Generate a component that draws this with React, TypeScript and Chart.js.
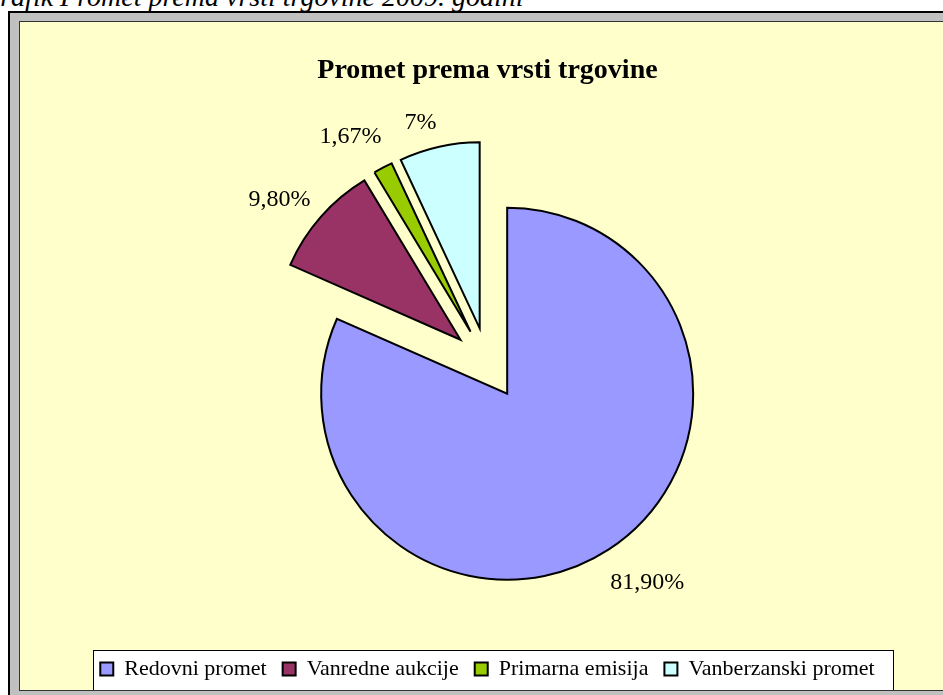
import React, { useEffect, useRef } from 'react';
import { Chart, registerables } from 'chart.js';

Chart.register(...registerables);

// ---- data ----
const categories = ['Redovni promet', 'Vanredne aukcije', 'Primarna emisija', 'Vanberzanski promet'];
const shares = [81.9, 9.8, 1.67, 7];
const shareLabels = ['81,90%', '9,80%', '1,67%', '7%'];
const sliceColors = ['#9999FF', '#993366', '#99CC00', '#CCFFFF'];
const chartTitle = 'Promet prema vrsti trgovine';
const caption = 'Grafik Promet prema vrsti trgovine 2009. godini';

// ---- style ----
const SERIF = "'Liberation Serif', 'Times New Roman', Times, serif";
const EXPLODE = 36;
const LABEL_TILT = (3.5 * Math.PI) / 180;
const LABEL_GAP = 12;

const explodePlugin = {
  id: 'explodeSlices',
  afterUpdate(chart: any) {
    const meta = chart.getDatasetMeta(0);
    meta.data.forEach((arc: any) => {
      const mid = (arc.startAngle + arc.endAngle) / 2;
      arc.x += Math.cos(mid) * EXPLODE;
      arc.y += Math.sin(mid) * EXPLODE;
    });
  },
};

const legendBoxPlugin = {
  id: 'legendBox',
  beforeDraw(chart: any) {
    const lg: any = chart.legend;
    if (!lg || !lg.legendHitBoxes || !lg.legendHitBoxes.length) return;
    const ctx = chart.ctx;
    const pad = lg.options.labels.padding;
    const boxes = lg.legendHitBoxes;
    const total = boxes.reduce((s: number, h: any) => s + h.width, 0) + pad * (boxes.length - 1);
    const cx = (lg.left + lg.right) / 2;
    const x0 = Math.round(cx - total / 2 - 7) + 0.5;
    const x1 = Math.round(cx + total / 2 + 18) + 0.5;
    const y0 = Math.round(lg.top + 8) + 0.5;
    const y1 = lg.bottom + 2;
    ctx.save();
    ctx.fillStyle = '#FFFFFF';
    ctx.fillRect(x0, y0, x1 - x0, y1 - y0);
    ctx.strokeStyle = '#000000';
    ctx.lineWidth = 1;
    ctx.strokeRect(x0, y0, x1 - x0, y1 - y0);
    ctx.restore();
  },
};

const sliceLabelPlugin = {
  id: 'sliceLabels',
  afterDatasetsDraw(chart: any) {
    const ctx = chart.ctx;
    const meta = chart.getDatasetMeta(0);
    ctx.save();
    ctx.font = `24px ${SERIF}`;
    ctx.fillStyle = '#000000';
    ctx.textAlign = 'center';
    ctx.textBaseline = 'middle';
    meta.data.forEach((arc: any, i: number) => {
      const text = shareLabels[i];
      const tw = ctx.measureText(text).width;
      const mid = (arc.startAngle + arc.endAngle) / 2 - LABEL_TILT;
      const dist = arc.outerRadius + LABEL_GAP + tw / 2;
      ctx.fillText(text, arc.x + Math.cos(mid) * dist, arc.y + Math.sin(mid) * dist);
    });
    ctx.restore();
  },
};

export default function App() {
  const ref = useRef<HTMLCanvasElement>(null);

  useEffect(() => {
    const chart = new Chart(ref.current as HTMLCanvasElement, {
      type: 'pie',
      data: {
        labels: categories,
        datasets: [
          {
            data: shares,
            backgroundColor: sliceColors,
            borderColor: '#000000',
            borderWidth: 2,
            borderJoinStyle: 'miter',
          } as any,
        ],
      },
      options: {
        responsive: false,
        animation: false,
        radius: 186,
        layout: { padding: { left: 12, right: 0, top: 0, bottom: 0 } },
        plugins: {
          title: {
            display: true,
            text: chartTitle,
            color: '#000000',
            font: { family: SERIF, size: 28, weight: 'bold', lineHeight: 1 },
            padding: { top: 35, bottom: 0 },
          },
          legend: {
            position: 'bottom',
            labels: {
              color: '#000000',
              font: { family: SERIF, size: 22 },
              boxWidth: 13,
              boxHeight: 13,
              padding: 16,
            },
          },
          tooltip: { enabled: false },
        },
      } as any,
      plugins: [explodePlugin, legendBoxPlugin, sliceLabelPlugin],
    });
    return () => chart.destroy();
  }, []);

  return (
    <div
      style={{
        position: 'absolute',
        left: 0,
        top: 0,
        width: 943,
        height: 695,
        overflow: 'hidden',
        background: '#FFFFFF',
      }}
    >
      <div
        style={{
          position: 'absolute',
          left: 8,
          top: 11,
          width: 1000,
          height: 700,
          boxSizing: 'border-box',
          border: '2px solid #000000',
          background: '#C0C0C0',
        }}
      />
      <div
        style={{
          position: 'absolute',
          left: 19,
          top: 21,
          width: 1000,
          height: 670,
          boxSizing: 'border-box',
          border: '1px solid #333333',
          background: '#FFFFCC',
        }}
      />
      <div
        style={{
          position: 'absolute',
          left: -20,
          top: -17,
          whiteSpace: 'nowrap',
          font: `italic 28px/28px ${SERIF}`,
          color: '#000000',
        }}
      >
        {caption}
      </div>
      <canvas
        ref={ref}
        width={923}
        height={668}
        style={{ position: 'absolute', left: 20, top: 22, width: 923, height: 668 }}
      />
    </div>
  );
}
